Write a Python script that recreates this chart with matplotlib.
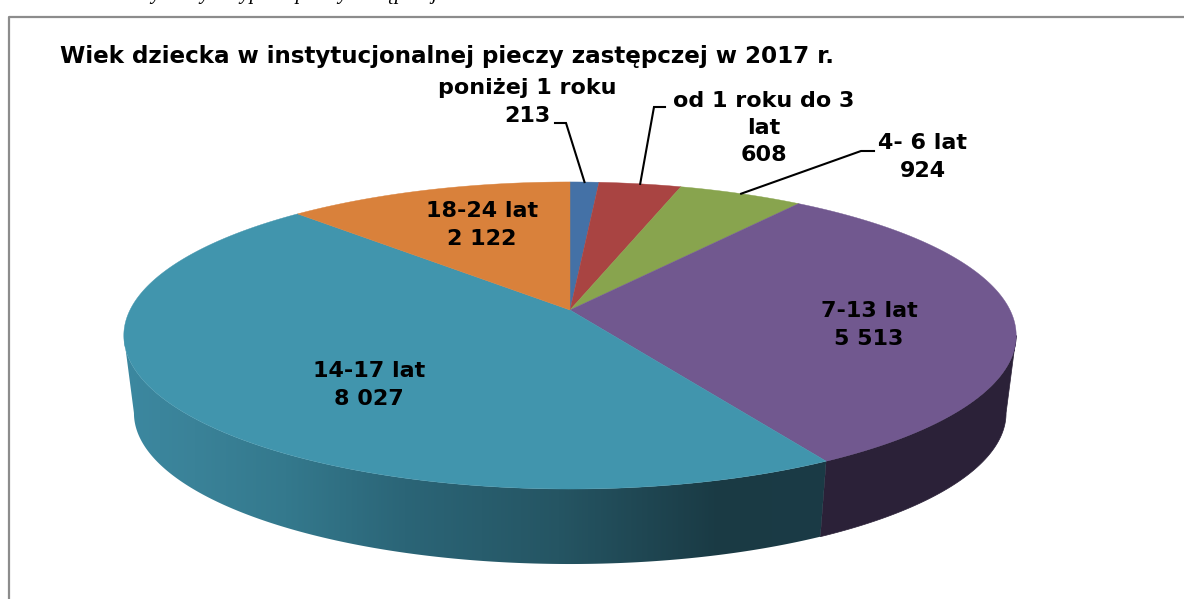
import numpy as np
import matplotlib
matplotlib.use("Agg")
import matplotlib.pyplot as plt
from matplotlib.colors import LinearSegmentedColormap
from matplotlib.patches import Polygon

plt.rcParams["font.family"] = ["DejaVu Sans"]

TITLE = "Wiek dziecka w instytucjonalnej pieczy zastępczej w 2017 r."
CUT_LINE = "Dzieci w wybranych typach pieczy zastępczej"
CATEGORIES = ["poniżej 1 roku", "od 1 roku do 3\nlat", "4- 6 lat", "7-13 lat", "14-17 lat", "18-24 lat"]
VALUES = [213, 608, 924, 5513, 8027, 2122]
COLORS = ["#4471A6", "#A94442", "#88A44E", "#71588F", "#4195AD", "#D9813B"]

# Perspective of the disc, in pixels
CX = 570
TOP_Y, BOTTOM_Y = 310, 388
TOP_A, TOP_B = 440, 149.3
BOTTOM_A, BOTTOM_B = 430, 146.8
K = 0.166


def project(theta, y0, a, b):
    # theta is clockwise from 12 o'clock, in radians
    u, v = np.sin(theta), np.cos(theta)
    w = 1 + K * v
    return CX + a * u / w, y0 - b * v / w


def top_rim(theta):
    return project(theta, TOP_Y, TOP_A, TOP_B)


def bottom_rim(theta):
    return project(theta, BOTTOM_Y, BOTTOM_A, BOTTOM_B)


def wall(t0, t1):
    # Outline of the side wall between two angles
    t = np.linspace(t0, t1, 300)
    xa, ya = top_rim(t)
    xb, yb = bottom_rim(t[::-1])
    return np.column_stack([np.r_[xa, xb], np.r_[ya, yb]])


def fmt(v):
    return f"{v:,}".replace(",", " ")


fig = plt.figure(figsize=(11.84, 5.99), dpi=100)
ax = fig.add_axes([0, 0, 1, 1])
ax.set_xlim(0, 1184)
ax.set_ylim(599, 0)
ax.axis("off")

# Frame and the cut off line of text above it
ax.plot([8.5, 8.5, 1184], [599, 16.5, 16.5], color="#8c8c8c", lw=1.6)
ax.text(60, -1, CUT_LINE, family="Liberation Serif", style="italic",
        fontsize=15, ha="left", va="baseline", color="black")

vals = np.array(VALUES, dtype=float)
edges = np.concatenate([[0], np.cumsum(vals)]) / vals.sum() * 2 * np.pi

# The wall is visible between the two outermost points of the rim
right_end = np.arccos(-K)
left_end = 2 * np.pi - right_end

# Side wall: flat dark purple, then a teal gradient running left to right
ax.add_patch(Polygon(wall(right_end, edges[4]), closed=True, color="#2b2138", lw=0.5))

teal = LinearSegmentedColormap.from_list("teal", [
    (0.0, "#3c88a0"), (0.1, "#3a8298"), (0.23, "#34798d"), (0.4, "#2b6577"),
    (0.62, "#255563"), (0.85, "#1a3a44"), (1.0, "#1b3b46")])
gradient = np.linspace(0, 1, 256)[None, :]
img = ax.imshow(gradient, cmap=teal, extent=[124, 826, 599, 0], aspect="auto", zorder=2)
img.set_clip_path(Polygon(wall(edges[4], left_end), closed=True, transform=ax.transData))
ax.set_xlim(0, 1184)
ax.set_ylim(599, 0)

# Top face
for i in range(len(vals)):
    t = np.linspace(edges[i], edges[i + 1], 200)
    x, y = top_rim(t)
    ax.fill(np.r_[CX, x], np.r_[TOP_Y, y], color=COLORS[i], lw=0.3, zorder=3)

# Leader lines for the three small slices
elbows = [(566, 123, 555), (654, 107, 665), (861, 151, 874)]
for i, (ex, ey, tx) in enumerate(elbows):
    mx, my = top_rim((edges[i] + edges[i + 1]) / 2)
    ax.plot([tx, ex, mx], [ey, ey, my], color="black", lw=1.5, solid_joinstyle="miter", zorder=4)

# Labels
label_pos = [(527, 102), (764, 128), (923, 157), (869, 325), (369, 385), (482, 225)]
for name, v, (lx, ly) in zip(CATEGORIES, VALUES, label_pos):
    ax.text(lx, ly, f"{name}\n{fmt(v)}", ha="center", va="center", fontsize=16,
            fontweight="bold", color="black", linespacing=1.44, zorder=5)

ax.text(60, 56, TITLE, ha="left", va="center", fontsize=16.55, fontweight="bold", color="black", zorder=5)

fig.savefig("out.png", dpi=100)
